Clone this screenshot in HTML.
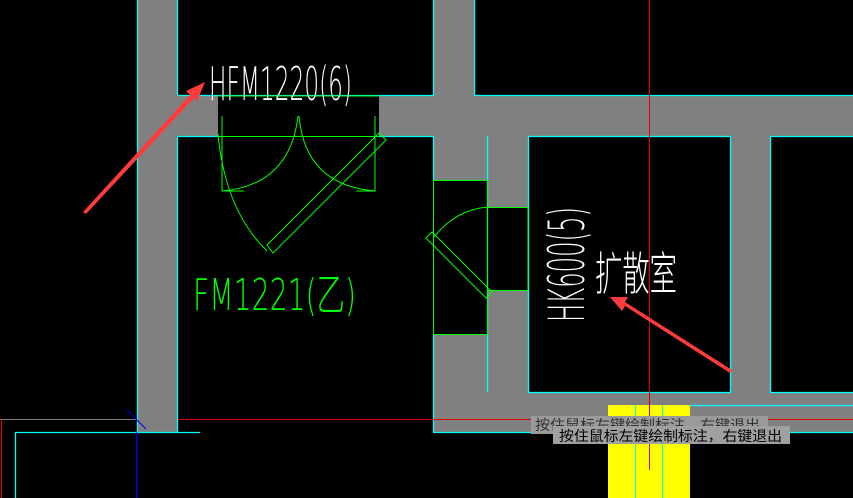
<!DOCTYPE html>
<html><head><meta charset="utf-8"><style>
html,body{margin:0;padding:0;background:#000;width:853px;height:498px;overflow:hidden}
svg{display:block}
text{font-family:"Liberation Sans","Noto Sans CJK SC",sans-serif}
.thin{font-family:"DejaVu Sans","Noto Sans CJK SC",sans-serif;font-weight:200}
</style></head><body>
<svg width="853" height="498" viewBox="0 0 853 498" xmlns="http://www.w3.org/2000/svg">
<rect width="853" height="498" fill="#000"/>
<g fill="#808080">
<rect x="137" y="0" width="41" height="432"/>
<rect x="178" y="95" width="675" height="41"/>
<rect x="433" y="0" width="41" height="95"/>
<rect x="433" y="136" width="95" height="296"/>
<rect x="730" y="136" width="40" height="256"/>
<rect x="433" y="392" width="420" height="40"/>
</g>
<rect x="218" y="95" width="161" height="41" fill="#000"/>
<rect x="433" y="180" width="54" height="155" fill="#000"/>
<rect x="487" y="207" width="41" height="83" fill="#000"/>
<rect x="528" y="136" width="202" height="256" fill="#000"/>
<rect x="770" y="136" width="83" height="256" fill="#000"/>
<g stroke="#00ffff" stroke-width="1.3" fill="none">
<line x1="137.5" y1="0" x2="137.5" y2="432"/>
<line x1="177.5" y1="0" x2="177.5" y2="95"/>
<line x1="177.5" y1="136" x2="177.5" y2="432"/>
<polyline points="178,95.5 433.5,95.5 433.5,0"/>
<polyline points="474.5,0 474.5,95.5 853,95.5"/>
<polyline points="379,136.5 433.5,136.5 433.5,180"/>
<line x1="178" y1="136.5" x2="218" y2="136.5"/>
<line x1="433.5" y1="335" x2="433.5" y2="432"/>
<line x1="487.5" y1="136" x2="487.5" y2="392"/>
<rect x="528.5" y="136.5" width="202" height="256"/>
<polyline points="853,136.5 770.5,136.5 770.5,392.5 853,392.5"/>
<line x1="690" y1="405.5" x2="853" y2="405.5"/>
<line x1="433" y1="432.5" x2="853" y2="432.5"/>
<polyline points="15.5,498 15.5,432.5 200,432.5"/>
</g>
<rect x="608" y="405" width="82" height="93" fill="#ffff00"/>
<line x1="635.5" y1="405" x2="635.5" y2="498" stroke="#00ffff"/>
<line x1="662.5" y1="405" x2="662.5" y2="498" stroke="#00ffff"/>
<line x1="649.5" y1="0" x2="649.5" y2="470" stroke="#e00000"/>
<line x1="178" y1="419.5" x2="853" y2="419.5" stroke="#e00000"/>
<line x1="0" y1="419.5" x2="137" y2="419.5" stroke="#808080"/>
<line x1="1.5" y1="419" x2="1.5" y2="498" stroke="#e00000"/>
<line x1="136.5" y1="432" x2="136.5" y2="498" stroke="#0000ff" stroke-width="1.3"/>
<line x1="127" y1="410" x2="146" y2="429" stroke="#0000ff"/>
<g stroke="#00ff00" stroke-width="1" fill="none">
<line x1="218" y1="96" x2="379" y2="96"/>
<line x1="218" y1="136.5" x2="379" y2="136.5"/>
<polyline points="222,116 222,191 244,191"/>
<polyline points="375,116 375,191 356,191"/>
<path d="M222,191 Q290,185 298,116"/>
<path d="M299,116 Q305,185 375,191"/>
<path d="M218,134 Q225,210 267,251"/>
<polygon points="267,245 379,133 386,140 273,253"/>
<rect x="433.5" y="180.5" width="54" height="154"/>
<line x1="528" y1="207" x2="528" y2="290"/>
<line x1="487" y1="207.5" x2="528" y2="207.5"/>
<line x1="487" y1="290.5" x2="528" y2="290.5"/>
<path d="M433,238 Q455,210 487,207"/>
<polygon points="426,238 432,232 492,292 486,298"/>
</g>
<text class="thin" x="209" y="100" fill="#fff" font-size="46" textLength="143" lengthAdjust="spacingAndGlyphs">HFM1220(6)</text>
<text class="thin" x="193" y="310" fill="#00ff00" font-size="44" textLength="163" lengthAdjust="spacingAndGlyphs">FM1221(乙)</text>
<text class="thin" x="0" y="0" fill="#fff" font-size="50" textLength="115" lengthAdjust="spacingAndGlyphs" transform="translate(584,322) rotate(-90)">HK600(5)</text>
<text class="thin" x="595" y="290" fill="#fff" font-size="46" textLength="82" lengthAdjust="spacingAndGlyphs">扩散室</text>
<g fill="#ff3b3b">
<polygon points="83,212 190,95 186,91 205,82 197,101 194,98 86,214"/>
<polygon points="730,373 625,306 622,311 610,297 628,297 625,302 732,370"/>
</g>
<rect x="531" y="416" width="237" height="18" fill="#9a9a9a"/>
<text x="535" y="430" fill="#333" font-size="14" textLength="225" lengthAdjust="spacingAndGlyphs">按住鼠标左键绘制标注，右键退出</text>
<rect x="553" y="426" width="237" height="18" fill="#a0a0a0"/>
<text x="559" y="441" fill="#000" font-size="14" textLength="223" lengthAdjust="spacingAndGlyphs">按住鼠标左键绘制标注，右键退出</text>
</svg>
</body></html>
